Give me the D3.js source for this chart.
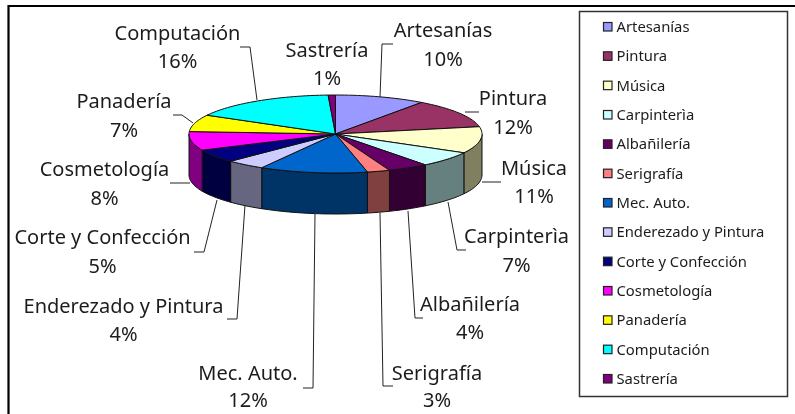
<!DOCTYPE html>
<html><head><meta charset="utf-8">
<script src="https://cdn.jsdelivr.net/npm/d3@7/dist/d3.min.js"></script>
<style>html,body{margin:0;padding:0;background:#fff}svg{display:block;filter:blur(0.35px)}text{font-family:"Noto Sans",sans-serif;fill:#1c1c1c}</style>
</head><body><svg id="c" width="795" height="414"></svg>
<script>
const categories=["Artesanías","Pintura","Música","Carpinterìa","Albañilería","Serigrafía","Mec. Auto.","Enderezado y Pintura","Corte y Confección","Cosmetología","Panadería","Computación","Sastrería"];
const seriesValues=[10,12,11,6.5,4.5,2.5,11.9,4.3,5.5,7.8,7,16.2,0.8];
const percentLabels=["10%","12%","11%","7%","4%","3%","12%","4%","5%","8%","7%","16%","1%"];
const topColors=["#9999FF","#993366","#FFFFCC","#CCFFFF","#660066","#FF8080","#0066CC","#CCCCFF","#000080","#FF00FF","#FFFF00","#00FFFF","#800080"];
const sideColors=["#666699","#662244","#808060","#668080","#330033","#804040","#003366","#666680","#000040","#800080","#808000","#008080","#400040"];
const labelAnchors=[[443,37,66],[513,105,134],[534,175,203],[516.5,243,272],[470,311,339],[437,380,407],[248,380,407],[123.5,313,341],[102.5,244,273],[104.5,176,205],[124,108,137],[177.5,40,68],[327,57,85]];
const leaders=[[[380,97],[382,44],[393,44]],[[465,112],[479,112]],[[482,182],[501,182]],[[448,202],[457,250],[466,250]],[[408,211],[415,318],[423,318]],[[380,213],[383,386],[393,386]],[[315,214],[313,388],[303,388]],[[245,205],[237,319],[227,319]],[[217,200],[204,252],[194,252]],[[190,183],[170,183]],[[193,123],[182,115],[173,115]],[[257,100],[250,47],[240,47]],[]];
const cx=335.5,cy=134,rx=146.5,ry=39,depth=41;
const svg=d3.select("#c");
const pie=d3.pie().sort(null)(seriesValues);
const x=a=>cx+rx*Math.sin(a), y=a=>cy-ry*Math.cos(a);
const line=d3.line();
function arcPts(a0,a1){const n=Math.max(2,Math.ceil((a1-a0)/0.03));return d3.range(n+1).map(i=>{const a=a0+(a1-a0)*i/n;return [x(a),y(a)];});}
// frame
svg.append("path").attr("d","M8.5,414V6H795").attr("fill","none").attr("stroke","#000").attr("stroke-width",2.2);
// side walls (front half only)
const g=svg.append("g").attr("stroke","#111").attr("stroke-width",1).attr("stroke-linejoin","round");
pie.forEach((d,i)=>{
  const a0=Math.max(d.startAngle,Math.PI/2),a1=Math.min(d.endAngle,Math.PI*1.5);
  if(a1<=a0)return;
  const p=arcPts(a0,a1);
  const b=p.slice().reverse().map(q=>[q[0],q[1]+depth]);
  g.append("path").attr("d",line(p.concat(b))+"Z").attr("fill",sideColors[i]);
});
// top faces
pie.forEach((d,i)=>{
  g.append("path").attr("d",line([[cx,cy]].concat(arcPts(d.startAngle,d.endAngle)))+"Z").attr("fill",topColors[i]);
});
// leader lines
leaders.filter(l=>l.length).forEach(l=>svg.append("path").attr("d",line(l)).attr("fill","none").attr("stroke","#222").attr("stroke-width",1));
// data labels
categories.forEach((c,i)=>{
  const t=svg.append("text").attr("text-anchor","middle").attr("font-size",20);
  t.append("tspan").attr("x",labelAnchors[i][0]).attr("y",labelAnchors[i][1]).text(c);
  t.append("tspan").attr("x",labelAnchors[i][0]).attr("y",labelAnchors[i][2]).text(percentLabels[i]);
});
// legend
const lg=svg.append("g");
lg.append("rect").attr("x",579.5).attr("y",11.5).attr("width",208).attr("height",385).attr("fill","#fff").attr("stroke","#333").attr("stroke-width",1.5);
const ly=d3.scalePoint().domain(categories).range([27,379]);
categories.forEach((c,i)=>{
  lg.append("rect").attr("x",603.5).attr("y",ly(c)-4.5).attr("width",8.5).attr("height",8.5).attr("fill",topColors[i]).attr("stroke","#222").attr("stroke-width",1.2);
  lg.append("text").attr("x",616.5).attr("y",ly(c)+5).attr("font-size",14.8).text(c);
});
</script></body></html>
